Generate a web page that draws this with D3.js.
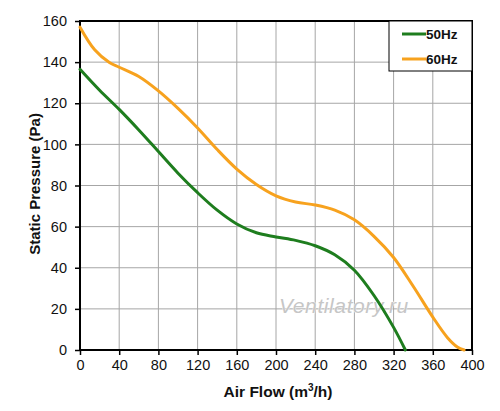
<!DOCTYPE html>
<html>
<head>
<meta charset="utf-8">
<script src="https://cdn.jsdelivr.net/npm/d3@7"></script>
<style>
  body { margin: 0; background: #fff; }
  svg { display: block; font-family: "Liberation Sans", Arial, sans-serif; }
</style>
</head>
<body>
<script>
// fan curves
var flow50 = [0, 20, 40, 60, 80, 100, 120, 140, 160, 180, 200, 220, 240, 260, 280, 300, 320, 332];
var pres50 = [136.5, 126.3, 117, 107, 96.5, 86, 76.5, 68, 61.3, 57, 55, 53.3, 50.7, 46.3, 38.8, 26.5, 11, 0];
var flow60 = [0, 15, 30, 40, 60, 80, 100, 120, 140, 160, 180, 200, 220, 240, 260, 280, 300, 320, 340, 360, 375, 385, 392];
var pres60 = [157, 146, 139.8, 137.5, 133, 126, 117.5, 108, 97.5, 88, 80.5, 75, 72, 70.5, 68, 63.3, 55.3, 45, 31, 16, 6, 1.5, 0];
var xTicks = [0, 40, 80, 120, 160, 200, 240, 280, 320, 360, 400];
var yTicks = [0, 20, 40, 60, 80, 100, 120, 140, 160];
var seriesNames = ["50Hz", "60Hz"];
var seriesColors = ["#1e7d1e", "#f7a21e"];

var width = 500, height = 411;
var margin = {top: 21, right: 28, bottom: 61, left: 80};

var svg = d3.select("body").append("svg")
    .attr("width", width)
    .attr("height", height);

var x = d3.scaleLinear().domain([0, 400]).range([margin.left, width - margin.right]);
var y = d3.scaleLinear().domain([0, 160]).range([height - margin.bottom, margin.top]);

// grid
svg.append("g")
    .selectAll("line")
    .data(xTicks)
    .join("line")
    .attr("x1", d => x(d)).attr("x2", d => x(d))
    .attr("y1", y(0)).attr("y2", y(160))
    .attr("stroke", "#a6a6a6").attr("stroke-width", 1);
svg.append("g")
    .selectAll("line")
    .data(yTicks)
    .join("line")
    .attr("x1", x(0)).attr("x2", x(400))
    .attr("y1", d => y(d)).attr("y2", d => y(d))
    .attr("stroke", "#a6a6a6").attr("stroke-width", 1);

// watermark
svg.append("text")
    .attr("x", 279)
    .attr("y", 313)
    .attr("font-size", 21)
    .attr("font-style", "italic")
    .attr("fill", "#c6c6c6")
    .attr("stroke", "#ffffff")
    .attr("stroke-width", 0.8)
    .attr("paint-order", "stroke")
    .attr("letter-spacing", 0.6)
    .text("Ventilatory.ru");

// axes
var xAxis = svg.append("g")
    .attr("transform", `translate(0,${y(0)})`)
    .call(d3.axisBottom(x).tickValues(xTicks).tickSize(5).tickPadding(5).tickSizeOuter(0));
var yAxis = svg.append("g")
    .attr("transform", `translate(${x(0)},0)`)
    .call(d3.axisLeft(y).tickValues(yTicks).tickSize(5).tickPadding(8).tickSizeOuter(0));
[xAxis, yAxis].forEach(g => {
    g.select(".domain").remove();
    g.selectAll(".tick line").attr("stroke", "#000").attr("stroke-width", 1.5);
    g.selectAll(".tick text").attr("font-size", 14.5).attr("fill", "#111")
        .attr("font-family", "Liberation Sans, Arial, sans-serif");
});

// frame
svg.append("rect")
    .attr("x", x(0)).attr("y", y(160))
    .attr("width", x(400) - x(0)).attr("height", y(0) - y(160))
    .attr("fill", "none").attr("stroke", "#000").attr("stroke-width", 2);

// curves
var line = d3.line()
    .x(d => x(d[0]))
    .y(d => y(d[1]))
    .curve(d3.curveCatmullRom.alpha(0.5));

var series = [
    d3.zip(flow50, pres50),
    d3.zip(flow60, pres60)
];
series.forEach((s, i) => {
    svg.append("path")
        .datum(s)
        .attr("fill", "none")
        .attr("stroke", seriesColors[i])
        .attr("stroke-width", 3)
        .attr("stroke-linejoin", "round")
        .attr("stroke-linecap", "round")
        .attr("d", line);
});

// legend
var lg = svg.append("g");
lg.append("rect")
    .attr("x", 389).attr("y", y(160))
    .attr("width", x(400) - 389).attr("height", 50)
    .attr("fill", "#fff").attr("stroke", "#000").attr("stroke-width", 1);
seriesNames.forEach((d, i) => {
    lg.append("line")
        .attr("x1", 402).attr("x2", 426)
        .attr("y1", 34 + i * 25).attr("y2", 34 + i * 25)
        .attr("stroke", seriesColors[i]).attr("stroke-width", 3);
    lg.append("text")
        .attr("x", 426).attr("y", 39 + i * 25)
        .attr("font-size", 13.5).attr("font-weight", "bold").attr("fill", "#111")
        .text(d);
});

// axis titles
svg.append("text")
    .attr("x", 278).attr("y", 397)
    .attr("text-anchor", "middle")
    .attr("font-size", 15.5).attr("font-weight", "bold").attr("fill", "#111")
    .html('Air Flow (m<tspan font-size="10" dy="-6">3</tspan><tspan dy="6">/h)</tspan>');
svg.append("text")
    .attr("transform", `translate(40,184) rotate(-90)`)
    .attr("text-anchor", "middle")
    .attr("font-size", 15).attr("font-weight", "bold").attr("fill", "#111")
    .text("Static Pressure (Pa)");
</script>
</body>
</html>
